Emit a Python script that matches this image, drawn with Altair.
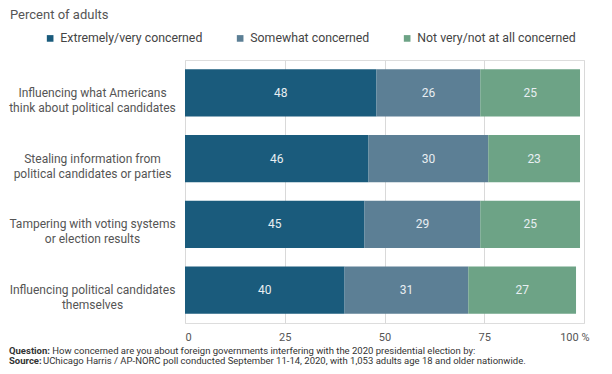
import altair as alt
import pandas as pd

questions = [
    "Influencing what Americans|think about political candidates",
    "Stealing information from|political candidates or parties",
    "Tampering with voting systems|or election results",
    "Influencing political candidates|themselves",
]
responses = ["Extremely/very concerned", "Somewhat concerned", "Not very/not at all concerned"]
extreme = [48, 46, 45, 40]
somewhat = [26, 30, 29, 31]
notvery = [25, 23, 25, 27]
colors = ["#1a5b7c", "#5c7f95", "#6da386"]
x_ticks = [0, 25, 50, 75, 100]

title_text = "Percent of adults"
q_label = "Question:"
q_text = "How concerned are you about foreign governments interfering with the 2020 presidential election by:"
s_label = "Source:"
s_text = "UChicago Harris / AP-NORC poll conducted September 11-14, 2020, with 1,053 adults age 18 and older nationwide."

rows = []
for i, q in enumerate(questions):
    for j, (r, vals) in enumerate(zip(responses, [extreme, somewhat, notvery])):
        rows.append({"question": q, "response": r, "value": vals[i], "ord": j})
df = pd.DataFrame(rows)

FONT = "Roboto"

y_enc = alt.Y(
    "question:N",
    sort=questions,
    scale=alt.Scale(paddingInner=0.285, paddingOuter=0.1425),
    axis=alt.Axis(
        title=None,
        labelExpr="split(datum.label, '|')",
        labelAlign="center",
        labelBaseline="middle",
        labelPadding=93,
        ticks=False,
        domain=False,
        labelFontSize=12,
        labelColor="#555555",
        labelLineHeight=15,
        labelLimit=0,
        labelFont=FONT,
    ),
)

x_scale = alt.Scale(domain=[0, 100], nice=False)

base = alt.Chart(df)

bars = base.mark_bar().encode(
    y=y_enc,
    x=alt.X(
        "value:Q",
        stack="zero",
        scale=x_scale,
        axis=alt.Axis(
            values=x_ticks,
            title=None,
            grid=True,
            gridColor="#d9d9d9",
            domain=False,
            ticks=False,
            labelFontSize=11,
            labelColor="#555555",
            labelFont=FONT,
            labelPadding=8,
            labelExpr="datum.value == 100 ? '100 %' : datum.label",
            labelOffset=alt.ExprRef("datum.value == 100 ? 5 : 0"),
        ),
    ),
    color=alt.Color(
        "response:N",
        sort=responses,
        scale=alt.Scale(domain=responses, range=colors),
        legend=alt.Legend(
            title=None,
            orient="none",
            legendX=-141,
            legendY=-28,
            direction="horizontal",
            symbolType="square",
            symbolSize=44,
            symbolStrokeWidth=0,
            labelFontSize=12.3,
            labelColor="#444444",
            labelFont=FONT,
            columnPadding=31,
            labelOffset=4,
            padding=0,
            labelLimit=0,
        ),
    ),
    order=alt.Order("ord:Q"),
)

labels = (
    base.transform_stack(
        stack="value", groupby=["question"], sort=[alt.SortField("ord")], as_=["v0", "v1"]
    )
    .transform_calculate(mid="(datum.v0 + datum.v1) / 2")
    .mark_text(color="#e8eef2", fontSize=12, font=FONT, baseline="middle")
    .encode(
        y=alt.Y("question:N", sort=questions),
        x=alt.X("mid:Q", scale=x_scale),
        text="value:Q",
    )
)

def note(text, x, y, bold=False, size=9.5, color="#333333"):
    return alt.Chart(pd.DataFrame({"t": [text]})).mark_text(
        align="left",
        baseline="middle",
        fontSize=size,
        font=FONT,
        fontWeight="bold" if bold else "normal",
        color=color,
    ).encode(x=alt.value(x), y=alt.value(y), text="t:N")

title_mark = note(title_text, -175, -45.5, size=13, color="#555555")
q1 = note(q_label, -176, 291, bold=True)
q2 = note(q_text, -132.7, 291)
s1 = note(s_label, -176, 301.3, bold=True)
s2 = note(s_text, -142, 301.3)

chart = (
    alt.layer(bars, labels, title_mark, q1, q2, s1, s2)
    .properties(
        width=399,
        height=263,
        autosize=alt.AutoSizeParams(type="none"),
        padding={"left": 177, "top": 52, "right": 20, "bottom": 43},
    )
    .configure_view(stroke=None)
    .configure(font=FONT)
)

chart.save("out.html", embed_options={"renderer": "svg", "actions": False})
